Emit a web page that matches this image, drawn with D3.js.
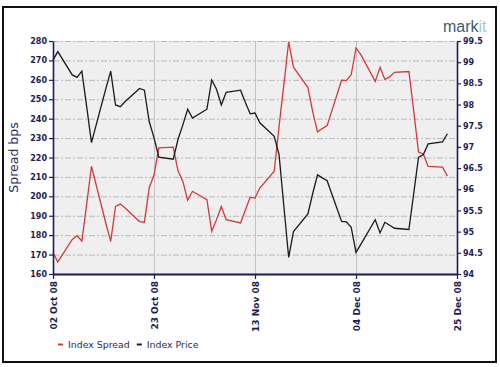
<!DOCTYPE html>
<html>
<head>
<meta charset="utf-8">
<script src="https://cdn.jsdelivr.net/npm/d3@7/dist/d3.min.js"></script>
<style>
  html, body { margin: 0; padding: 0; background: #fff; }
  svg { display: block; }
</style>
</head>
<body>
<script>
const dates = ["2008-10-02","2008-10-03","2008-10-06","2008-10-07","2008-10-08","2008-10-09","2008-10-10","2008-10-13","2008-10-14","2008-10-15","2008-10-16","2008-10-17","2008-10-20","2008-10-21","2008-10-22","2008-10-23","2008-10-24","2008-10-27","2008-10-28","2008-10-29","2008-10-30","2008-10-31","2008-11-03","2008-11-04","2008-11-05","2008-11-06","2008-11-07","2008-11-10","2008-11-11","2008-11-12","2008-11-13","2008-11-14","2008-11-17","2008-11-18","2008-11-19","2008-11-20","2008-11-21","2008-11-24","2008-11-25","2008-11-26","2008-11-27","2008-11-28","2008-12-01","2008-12-02","2008-12-03","2008-12-04","2008-12-05","2008-12-08","2008-12-09","2008-12-10","2008-12-11","2008-12-12","2008-12-15","2008-12-16","2008-12-17","2008-12-18","2008-12-19","2008-12-22","2008-12-23"];

const indexSpread = [171,166.2,177.8,179.7,177,196,215.5,186,176.8,194.8,196,194,187,186.7,204.3,211,225,225.3,213,207.7,198,202.6,
  198.3,182,188,194.8,188,186.3,193,199.5,199.1,204.3,212.9,236,257.5,279.6,266.5,256,243.5,233.2,234.9,236.4,
  259.8,259.6,262.6,276.4,273,259.2,266.4,260.2,261.5,263.9,264.3,244,222.8,221.8,215.4,215,210.5];

const indexPrice = [99.05,99.25,98.70,98.64,98.79,97.95,97.10,98.38,98.79,97.99,97.95,98.07,98.38,98.34,97.60,97.22,96.76,96.71,97.18,97.52,97.89,97.68,
  97.89,98.58,98.36,97.99,98.29,98.34,98.05,97.78,97.80,97.57,97.25,96.82,95.6,94.39,95.0,95.42,95.9,96.34,96.27,96.20,
  95.24,95.23,95.10,94.51,94.70,95.28,94.97,95.22,95.15,95.08,95.05,95.9,96.75,96.82,97.07,97.12,97.31];

const xTickLabels = ["2008-10-02","2008-10-23","2008-11-13","2008-12-04","2008-12-25"];
const leftTicks = [160,170,180,190,200,210,220,230,240,250,260,270,280];
const rightTicks = [94,94.5,95,95.5,96,96.5,97,97.5,98,98.5,99,99.5];
const seriesNames = ["Index Spread","Index Price"];

const W = 500, H = 367;
const m = {left: 53, right: 43, top: 41, bottom: 93};
const parse = d3.utcParse("%Y-%m-%d");
const navy = "#1c1c52";

const svg = d3.select("body").append("svg").attr("width", W).attr("height", H);

// outer frame
svg.append("rect").attr("x", 3).attr("y", 7).attr("width", 493).attr("height", 355)
  .attr("fill", "#fff").attr("stroke", "#111").attr("stroke-width", 2);

const x = d3.scaleUtc().domain([parse(xTickLabels[0]), parse(xTickLabels[xTickLabels.length-1])]).range([m.left, W - m.right]);
const yL = d3.scaleLinear().domain([160, 280]).range([H - m.bottom, m.top]);
const yR = d3.scaleLinear().domain([94, 99.5]).range([H - m.bottom, m.top]);

// plot background
svg.append("rect").attr("x", m.left).attr("y", m.top)
  .attr("width", W - m.right - m.left).attr("height", H - m.bottom - m.top)
  .attr("fill", "#efefef");

// horizontal grid
svg.append("g").selectAll("line").data(leftTicks.slice(1)).join("line")
  .attr("x1", m.left).attr("x2", W - m.right)
  .attr("y1", d => yL(d) + 0.5).attr("y2", d => yL(d) + 0.5)
  .attr("stroke", "#b9b9b9").attr("stroke-width", 1).attr("stroke-dasharray", "6,2,2,2");

// vertical grid
svg.append("g").selectAll("line").data(xTickLabels.slice(1, -1)).join("line")
  .attr("x1", d => Math.round(x(parse(d))) + 0.5).attr("x2", d => Math.round(x(parse(d))) + 0.5)
  .attr("y1", m.top).attr("y2", H - m.bottom)
  .attr("stroke", "#c4c4c4").attr("stroke-width", 1);

const pts = dates.map((d, i) => ({date: parse(d), s: indexSpread[i], p: indexPrice[i]}));

svg.append("path").datum(pts)
  .attr("fill", "none").attr("stroke", "#d23a3a").attr("stroke-width", 1.3)
  .attr("d", d3.line().x(d => x(d.date)).y(d => yL(d.s)));

svg.append("path").datum(pts)
  .attr("fill", "none").attr("stroke", "#1a1a1a").attr("stroke-width", 1.3)
  .attr("d", d3.line().x(d => x(d.date)).y(d => yR(d.p)));

// axes
const font = "'DejaVu Sans', Verdana, sans-serif";

const gl = svg.append("g").attr("transform", `translate(${m.left},0)`)
  .call(d3.axisLeft(yL).tickValues(leftTicks).tickSize(4).tickPadding(2).tickSizeOuter(0));
const gr = svg.append("g").attr("transform", `translate(${W - m.right},0)`)
  .call(d3.axisRight(yR).tickValues(rightTicks).tickSize(4).tickPadding(2).tickSizeOuter(0).tickFormat(d => String(d)));
const gb = svg.append("g").attr("transform", `translate(0,${H - m.bottom})`)
  .call(d3.axisBottom(x).tickValues(xTickLabels.map(parse)).tickSize(5).tickSizeOuter(0).tickFormat(d3.utcFormat("%d %b %y")));

[gl, gr, gb].forEach(g => {
  g.select(".domain").attr("stroke", navy).attr("stroke-width", 1.6);
  g.selectAll(".tick line").attr("stroke", navy).attr("stroke-width", 1.2);
  g.selectAll("text").attr("fill", navy).attr("font-family", font).attr("font-size", 8).attr("font-weight", "bold");
});
gb.select(".domain").attr("stroke-width", 2);
gb.selectAll("text")
  .attr("transform", "rotate(-90)")
  .attr("text-anchor", "end")
  .attr("x", -7).attr("y", 0).attr("dy", "0.35em")
  .attr("font-size", 9);

// y title
svg.append("text")
  .attr("transform", `translate(18,${(m.top + H - m.bottom)/2}) rotate(-90)`)
  .attr("text-anchor", "middle")
  .attr("font-family", font).attr("font-size", 12.5)
  .attr("fill", "#26265a")
  .text("Spread bps");

// markit logo
const logo = svg.append("text").attr("x", 443).attr("y", 32)
  .attr("font-family", "'Liberation Sans', Arial, sans-serif").attr("font-size", 16);
logo.append("tspan").attr("fill", "#3c5e6a").text("mark");
logo.append("tspan").attr("fill", "#a6cad2").text("it");

// legend
const legColors = ["#d23a3a", "#1a1a1a"];
const lg = svg.append("g").attr("font-family", font).attr("font-size", 9.4).attr("fill", "#2a2a55");
let lx = 58;
seriesNames.forEach((name, i) => {
  lg.append("line").attr("x1", lx).attr("x2", lx + 5).attr("y1", 344.5).attr("y2", 344.5)
    .attr("stroke", legColors[i]).attr("stroke-width", 2);
  const t = lg.append("text").attr("x", lx + 10).attr("y", 348).text(name);
  lx = lx + 10 + t.node().getComputedTextLength() + 7;
});
</script>
</body>
</html>
